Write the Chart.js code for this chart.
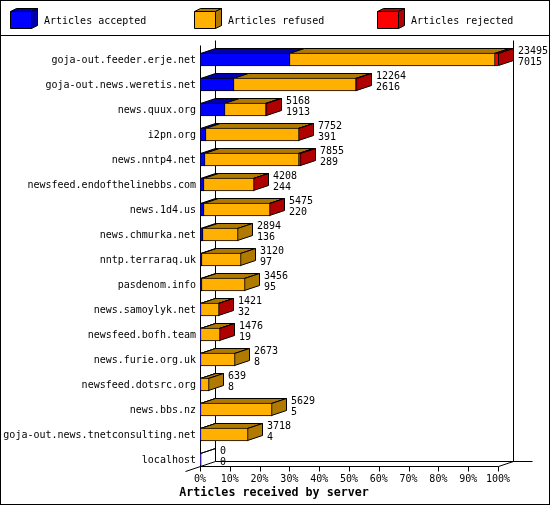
<!DOCTYPE html>
<html>
<head>
<meta charset="utf-8">
<title>Articles received by server</title>
<style>
  html, body { margin: 0; padding: 0; background: #fff; }
  canvas { display: block; }
</style>
<script src="https://cdn.jsdelivr.net/npm/chart.js@4"></script>
</head>
<body>
<canvas id="myChart" width="550" height="505"></canvas>
<script>
'use strict';

//chart data
var categories = ['goja-out.feeder.erje.net', 'goja-out.news.weretis.net', 'news.quux.org', 'i2pn.org',
  'news.nntp4.net', 'newsfeed.endofthelinebbs.com', 'news.1d4.us', 'news.chmurka.net', 'nntp.terraraq.uk',
  'pasdenom.info', 'news.samoylyk.net', 'newsfeed.bofh.team', 'news.furie.org.uk', 'newsfeed.dotsrc.org',
  'news.bbs.nz', 'goja-out.news.tnetconsulting.net', 'localhost'];
var accepted = [7015, 2616, 1913, 391, 289, 244, 220, 136, 97, 95, 32, 19, 8, 8, 5, 4, 0];
var refused = [16170, 9628, 3240, 7336, 7476, 3954, 5250, 2758, 3023, 3361, 1386, 1455, 2665, 631, 5624, 3714, 0];
var rejected = [310, 20, 15, 25, 90, 10, 5, 0, 0, 0, 3, 2, 0, 0, 0, 0, 0];
var percentLabels = ['0%', '10%', '20%', '30%', '40%', '50%', '60%', '70%', '80%', '90%', '100%'];
var seriesNames = ['Articles accepted', 'Articles refused', 'Articles rejected'];
var seriesValues = [accepted, refused, rejected];
var axisTitle = 'Articles received by server';

var frontColors = ['#0000ff', '#ffb000', '#ff0000'];
var darkColors = ['#0000b0', '#b07a00', '#b00000'];

var DEPTH_X = 15;
var DEPTH_Y = 5;
var FONT_FAMILY = 'DejaVu Sans Mono';
var TEXT_FONT = '10px "' + FONT_FAMILY + '"';

var totals = categories.map(function (name, i) {
  return accepted[i] + refused[i] + rejected[i];
});

function polygon(ctx, points, fill) {
  ctx.beginPath();
  points.forEach(function (p, i) {
    if (i === 0) {
      ctx.moveTo(p[0] + 0.5, p[1] + 0.5);
    } else {
      ctx.lineTo(p[0] + 0.5, p[1] + 0.5);
    }
  });
  ctx.closePath();
  if (fill) {
    ctx.fillStyle = fill;
    ctx.fill();
  }
  ctx.stroke();
}

function line(ctx, x1, y1, x2, y2) {
  ctx.beginPath();
  ctx.moveTo(x1 + 0.5, y1 + 0.5);
  ctx.lineTo(x2 + 0.5, y2 + 0.5);
  ctx.stroke();
}

function drawLegend(ctx) {
  seriesNames.forEach(function (name, i) {
    var x = Math.round(10 + 183.5 * i);
    polygon(ctx, [[x, 11], [x + 6, 8], [x + 27, 8], [x + 21, 11]], darkColors[i]);
    polygon(ctx, [[x + 21, 11], [x + 27, 8], [x + 27, 25], [x + 21, 28]], darkColors[i]);
    polygon(ctx, [[x, 11], [x + 21, 11], [x + 21, 28], [x, 28]], frontColors[i]);
    ctx.fillStyle = '#000';
    ctx.font = TEXT_FONT;
    ctx.textAlign = 'left';
    ctx.textBaseline = 'middle';
    ctx.fillText(name, x + 34, 21);
  });
}

function drawAxes(chart, ctx) {
  var xScale = chart.scales.x;
  var base = Math.round(chart.scales.y.getPixelForValue(categories.length - 1)) + 6;
  var left = Math.round(xScale.getPixelForValue(xScale.min));
  var right = Math.round(xScale.getPixelForValue(xScale.max));

  line(ctx, left + DEPTH_X, 40, left + DEPTH_X, base - DEPTH_Y);
  line(ctx, right + DEPTH_X, 40, right + DEPTH_X, base - DEPTH_Y);
  line(ctx, left + DEPTH_X, base - DEPTH_Y, 532, base - DEPTH_Y);
  line(ctx, left - DEPTH_X, base + DEPTH_Y, left + DEPTH_X, base - DEPTH_Y);
  line(ctx, right, base, right + DEPTH_X, base - DEPTH_Y);
  line(ctx, left, 45, left, base);
  line(ctx, left, base, right, base);
  xScale.ticks.forEach(function (tick) {
    var x = Math.round(xScale.getPixelForValue(tick.value));
    line(ctx, x, base, x, base + DEPTH_Y);
  });
}

// the front of each bar is drawn by the library, this adds the top and side
function drawDepth(chart, ctx) {
  categories.forEach(function (name, row) {
    var lastSeries = 0;
    seriesValues.forEach(function (values, s) {
      var bar = chart.getDatasetMeta(s).data[row];
      var top = Math.round(bar.y - bar.height / 2);
      var x1 = bar.base;
      var x2 = bar.x - 1;
      if (values[row] > 0) {
        lastSeries = s;
      }
      if (values[row] > 0 || (s === 0 && totals[row] === 0)) {
        polygon(ctx, [[x1, top], [x1 + DEPTH_X, top - DEPTH_Y], [x2 + DEPTH_X, top - DEPTH_Y], [x2, top]], darkColors[s]);
      }
    });
    if (totals[row] > 0) {
      var end = chart.getDatasetMeta(2).data[row];
      var y1 = Math.round(end.y - end.height / 2);
      var y2 = y1 + end.height - 1;
      var r = end.x - 1;
      polygon(ctx, [[r, y1], [r + DEPTH_X, y1 - DEPTH_Y], [r + DEPTH_X, y2 - DEPTH_Y], [r, y2]], darkColors[lastSeries]);
    }
  });
}

function drawValueLabels(chart, ctx) {
  ctx.fillStyle = '#000';
  ctx.font = TEXT_FONT;
  ctx.textAlign = 'left';
  ctx.textBaseline = 'middle';
  categories.forEach(function (name, row) {
    var end = chart.getDatasetMeta(2).data[row];
    var top = Math.round(end.y - end.height / 2);
    var x = end.x - 1 + DEPTH_X + 5;
    ctx.fillText(String(totals[row]), x, top - 2);
    ctx.fillText(String(accepted[row]), x, top + 9);
  });
}

var gdStyle = {
  id: 'gdStyle',
  afterDatasetsUpdate: function (chart) {
    // snap the bars to whole pixels, neighbours share their border
    chart.data.datasets.forEach(function (set, s) {
      chart.getDatasetMeta(s).data.forEach(function (bar) {
        bar.base = Math.round(bar.base);
        bar.x = Math.round(bar.x) + 1;
      });
    });
  },
  beforeDraw: function (chart) {
    var ctx = chart.ctx;
    ctx.save();
    ctx.strokeStyle = '#000';
    ctx.lineWidth = 1;
    ctx.strokeRect(0.5, 0.5, 549, 504);
    line(ctx, 0, 35, 549, 35);
    drawLegend(ctx);
    ctx.fillStyle = '#000';
    ctx.font = 'bold 11.67px "' + FONT_FAMILY + '"';
    ctx.textAlign = 'center';
    ctx.textBaseline = 'middle';
    ctx.fillText(axisTitle, 274, 493);
    ctx.restore();
  },
  beforeDatasetsDraw: function (chart) {
    var ctx = chart.ctx;
    ctx.save();
    ctx.strokeStyle = '#000';
    ctx.lineWidth = 1;
    drawAxes(chart, ctx);
    drawDepth(chart, ctx);
    ctx.restore();
  },
  afterDatasetsDraw: function (chart) {
    var ctx = chart.ctx;
    ctx.save();
    drawValueLabels(chart, ctx);
    ctx.restore();
  }
};

var chart = new Chart(document.getElementById('myChart'), {
  type: 'bar',
  plugins: [gdStyle],
  data: {
    labels: categories,
    datasets: seriesNames.map(function (name, s) {
      return {
        label: name,
        data: seriesValues[s],
        backgroundColor: frontColors[s],
        borderColor: '#000',
        borderWidth: 1,
        borderSkipped: false,
        barThickness: 13
      };
    })
  },
  options: {
    indexAxis: 'y',
    responsive: false,
    animation: false,
    devicePixelRatio: 1,
    layout: { padding: { left: 0, right: 52, top: 47, bottom: 0 } },
    plugins: {
      legend: { display: false },
      tooltip: { enabled: false }
    },
    scales: {
      x: {
        stacked: true,
        min: 0,
        max: Math.max.apply(null, totals),
        grid: { display: false, drawTicks: false },
        border: { display: false },
        afterFit: function (axis) { axis.height = 33; },
        ticks: {
          stepSize: Math.max.apply(null, totals) / 10,
          autoSkip: false,
          maxRotation: 0,
          padding: 1,
          color: '#000',
          font: { family: FONT_FAMILY, size: 10 },
          callback: function (value, index) { return percentLabels[index]; }
        }
      },
      y: {
        stacked: true,
        grid: { display: false, drawTicks: false },
        border: { display: false },
        afterFit: function (axis) { axis.width = 200; },
        ticks: {
          autoSkip: false,
          padding: 4,
          labelOffset: 1,
          color: '#000',
          font: { family: FONT_FAMILY, size: 10 }
        }
      }
    }
  }
});
</script>
</body>
</html>
